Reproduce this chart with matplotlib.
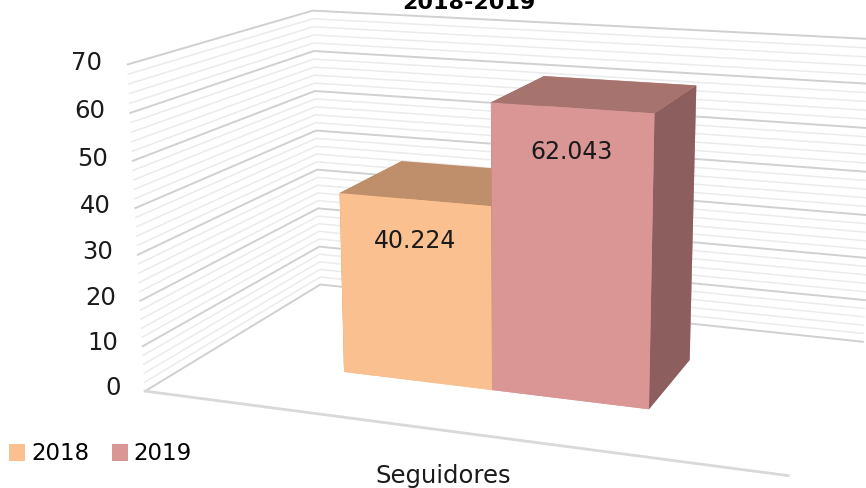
import numpy as np
import matplotlib
matplotlib.use("Agg")
import matplotlib.pyplot as plt
from matplotlib.patches import Patch
from mpl_toolkits.mplot3d import proj3d

# ---------------- data ----------------
title = "2018-2019"
category = "Seguidores"
series = ["2018", "2019"]
values = [40.224, 62.043]
value_labels = ["40.224", "62.043"]
zticks = [0, 10, 20, 30, 40, 50, 60, 70]
zmax = 70

# ---------------- style ----------------
front_colors = ["#FAC08F", "#D99694"]
top_colors = ["#BF8F6B", "#A6736F"]
side_colors = ["#C4875A", "#8C5F5E"]
major_grid = "#D0D0D0"
minor_grid = "#EBEBEB"
text_color = "#1a1a1a"

# 3-D view (calibrated)
ELEV, AZIM, FOCAL = 14.121, -70.259, 0.4238
BOX = (1.9677, 1.2129, 1.0)
BAR_X0, BAR_W = 0.2501, 0.2508      # fractions of the floor width
BAR_Y0, BAR_D = 0.3000, 0.3930      # fractions of the floor depth
AX_POS = [0.1294, -0.2669, 0.9139, 1.6218]

plt.rcParams["font.family"] = ["DejaVu Sans"]

fig = plt.figure(figsize=(8.66, 4.88), dpi=100)
ax = fig.add_axes(AX_POS, projection="3d", computed_zorder=False)
ax.set_xlim(0, 1)
ax.set_ylim(0, 1)
ax.set_zlim(0, zmax)
ax.set_box_aspect(BOX)
ax.set_proj_type("persp", focal_length=FOCAL)
ax.view_init(elev=ELEV, azim=AZIM)
ax.set_axis_off()


def text3d(x, y, z, s, **kw):
    """Place a flat 2-D text at the projected position of a 3-D data point."""
    xp, yp, _ = proj3d.proj_transform(np.atleast_1d(x), np.atleast_1d(y),
                                      np.atleast_1d(z), ax.get_proj())
    return ax.text2D(xp[0], yp[0], s, transform=ax.transData, **kw)


# wall gridlines (left wall + back wall): minor every 2, major every 10
for z in np.arange(0, zmax + 0.1, 2):
    major = (z % 10 == 0)
    ax.plot([0, 0, 1], [0, 1, 1], [z, z, z],
            color=major_grid if major else minor_grid,
            lw=1.4 if major else 1.1, zorder=1, clip_on=False)

# floor front edge (category axis line)
ax.plot([0, 1], [0, 0], [0, 0], color="#D9D9D9", lw=2.0, zorder=2, clip_on=False)

# bars
n = len(values)
xs = [BAR_X0 + i * BAR_W for i in range(n)]
facecolors = []
for i in range(n):
    # face order used by bar3d: -z, +z, -y, +y, -x, +x
    facecolors += [front_colors[i], top_colors[i], front_colors[i],
                   front_colors[i], side_colors[i], side_colors[i]]
bars = ax.bar3d(xs, [BAR_Y0] * n, [0] * n, BAR_W, BAR_D, values,
                color=facecolors, shade=False, edgecolor="none",
                linewidth=0, zorder=5)
bars.set_clip_on(False)

# data labels on the front faces
for i in range(n):
    text3d(xs[i] + BAR_W / 2, BAR_Y0, values[i] - 9, value_labels[i],
           ha="center", va="center", fontsize=17, color=text_color, zorder=10)

# value axis tick labels along the front-left edge
for t in zticks:
    text3d(-0.043, 0, t, str(t), ha="right", va="center", fontsize=17.5,
           color=text_color, zorder=10)

# category label
fig.text(443 / 866, 1 - 476 / 488, category, ha="center", va="center",
         fontsize=17.5, color=text_color)

# title (partly cut off at the top edge, as in the reference)
fig.text(0.5416, 0.994, title, ha="center", va="center", fontsize=16,
         fontweight="bold", color="#000000")

# legend
handles = [Patch(facecolor=front_colors[i], edgecolor="none", label=series[i])
           for i in range(n)]
fig.legend(handles=handles, loc="center left", bbox_to_anchor=(0.0, 1 - 454 / 488),
           ncol=n, frameon=False, fontsize=16.5, handlelength=0.7, handleheight=0.7,
           handletextpad=0.25, columnspacing=1.0, borderaxespad=0.0)

fig.savefig("out.png", dpi=100)
